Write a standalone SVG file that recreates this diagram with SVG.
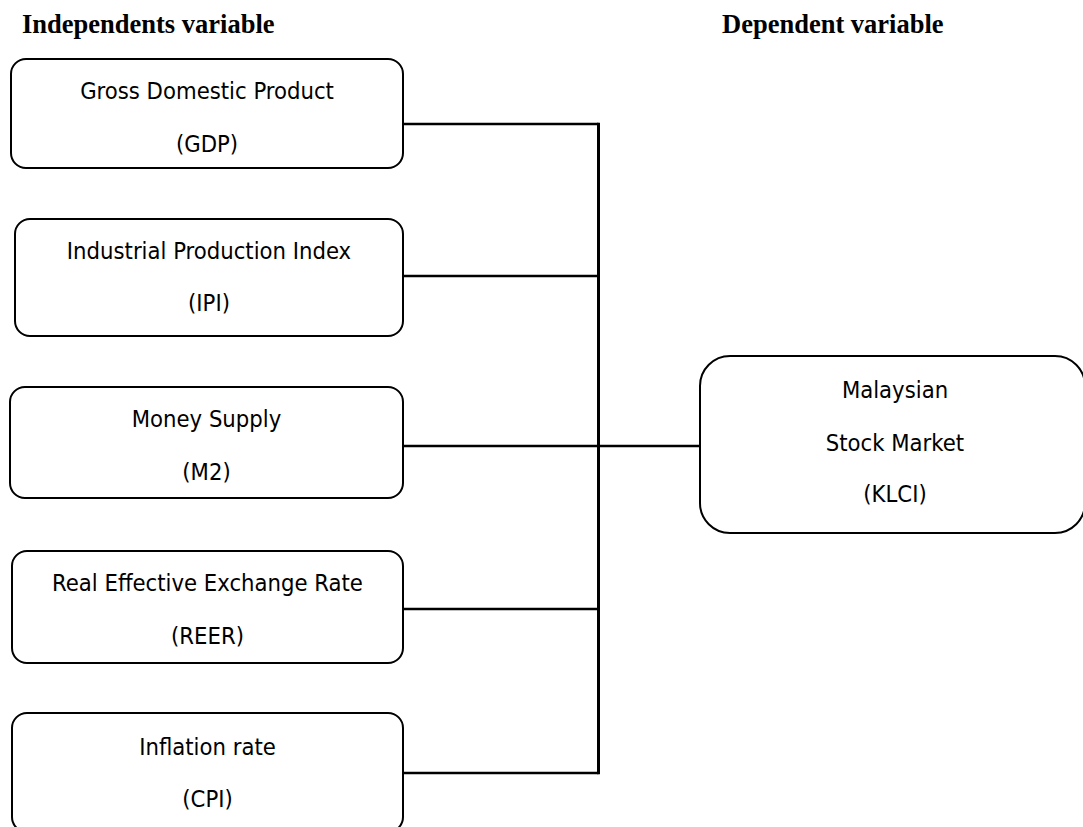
<svg xmlns="http://www.w3.org/2000/svg" width="1083" height="827" viewBox="0 0 1083 827">
<style>
.box{fill:#fff;stroke:#000;stroke-width:2}
.t{font-family:"DejaVu Sans Condensed","DejaVu Sans",sans-serif;font-size:23.6px;fill:#000;text-anchor:middle}
.h{font-family:"Liberation Serif","Times New Roman",serif;font-size:26.5px;font-weight:bold;fill:#000}
.c{stroke:#000;fill:none}
</style>
<rect width="1083" height="827" fill="#fff"/>
<text class="h" x="22" y="33">Independents variable</text>
<text class="h" x="722" y="33">Dependent variable</text>
<g id="connectors">
<line class="c" x1="403" y1="124" x2="598.5" y2="124" stroke-width="2.5"/>
<line class="c" x1="403" y1="276" x2="598.5" y2="276" stroke-width="2.5"/>
<line class="c" x1="403" y1="446" x2="700" y2="446" stroke-width="2.5"/>
<line class="c" x1="403" y1="609" x2="598.5" y2="609" stroke-width="2.5"/>
<line class="c" x1="403" y1="773" x2="598.5" y2="773" stroke-width="2.5"/>
<line class="c" x1="598.5" y1="122.8" x2="598.5" y2="774.2" stroke-width="3"/>
</g>
<g id="gdp">
<rect class="box" x="11" y="59" width="392" height="109" rx="15"/>
<text class="t" x="207" y="99">Gross Domestic Product</text>
<text class="t" x="207" y="152">(GDP)</text>
</g>
<g id="ipi">
<rect class="box" x="15" y="219" width="388" height="117" rx="15"/>
<text class="t" x="209" y="259">Industrial Production Index</text>
<text class="t" x="209" y="311">(IPI)</text>
</g>
<g id="m2">
<rect class="box" x="10" y="387" width="393" height="111" rx="15"/>
<text class="t" x="206.5" y="427">Money Supply</text>
<text class="t" x="206.5" y="480">(M2)</text>
</g>
<g id="reer">
<rect class="box" x="12" y="551" width="391" height="112" rx="15"/>
<text class="t" x="207.5" y="591">Real Effective Exchange Rate</text>
<text class="t" x="207.5" y="644">(REER)</text>
</g>
<g id="cpi">
<rect class="box" x="12" y="713" width="391" height="119" rx="15"/>
<text class="t" x="207.5" y="755">Inflation rate</text>
<text class="t" x="207.5" y="807">(CPI)</text>
</g>
<g id="klci">
<rect class="box" x="700" y="356" width="385" height="177" rx="30"/>
<text class="t" x="895" y="398">Malaysian</text>
<text class="t" x="895" y="451">Stock Market</text>
<text class="t" x="895" y="502">(KLCI)</text>
</g>
</svg>
